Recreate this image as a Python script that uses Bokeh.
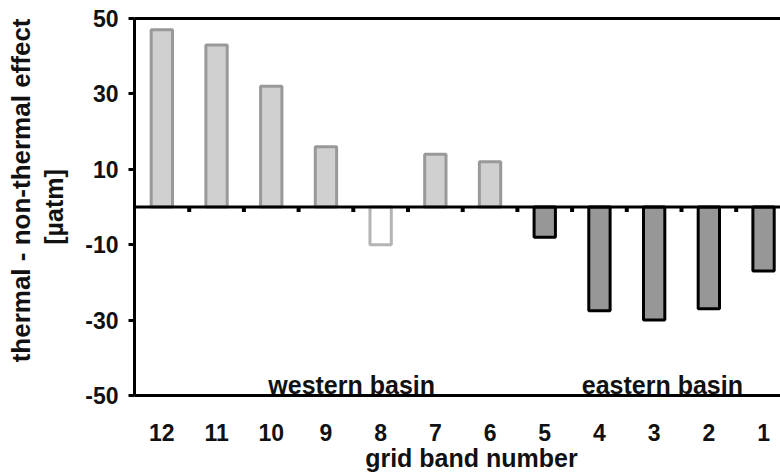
from bokeh.plotting import figure
from bokeh.models import (ColumnDataSource, Range1d, FixedTicker, LinearAxis, Label, Title, Span)
from bokeh.embed import file_html
from bokeh.resources import INLINE

# ---- data ----
bands = ["12", "11", "10", "9", "8", "7", "6", "5", "4", "3", "2", "1"]
values = [47, 43, 32, 16, -10, 14, 12, -8, -27.5, -30, -27, -17]
basin = ["western"] * 7 + ["eastern"] * 5
y_ticks = [-50, -30, -10, 10, 30, 50]
y_label_1 = "thermal - non-thermal effect"
y_label_2 = "[µatm]"
x_label = "grid band number"
basin_labels = ["western basin", "eastern basin"]

FONT = "Liberation Sans"

xs = list(range(len(bands)))
fills, lines = [], []
for b, v in zip(basin, values):
    if b == "eastern":
        fills.append("#979797"); lines.append("#000000")
    elif v >= 0:
        fills.append("#d0d0d0"); lines.append("#999999")
    else:
        fills.append("#ffffff"); lines.append("#b4b4b4")

src = ColumnDataSource(dict(x=xs, top=values, fill=fills, line=lines))

p = figure(width=780, height=474, output_backend="svg", toolbar_location=None,
           x_range=Range1d(-0.5, 11.31), y_range=Range1d(-50, 50),
           min_border_left=134, min_border_right=0, min_border_top=18,
           min_border_bottom=79)
p.outline_line_color = None
p.xgrid.visible = False
p.ygrid.visible = False
p.background_fill_color = "white"
p.border_fill_color = "white"

p.vbar(x="x", top="top", bottom=0, width=0.39, source=src,
       fill_color="fill", line_color="line", line_width=3)

# zero line with small ticks between categories
p.add_layout(Span(location=0, dimension="width", line_color="black", line_width=3))
bounds = [i + 0.5 for i in xs]
p.segment(x0=bounds, x1=bounds, y0=[0] * len(bounds), y1=[-1.3] * len(bounds),
          line_color="black", line_width=4, line_cap="butt")

# left axis
ya = p.yaxis[0]
ya.ticker = FixedTicker(ticks=y_ticks)
ya.major_label_overrides = {t: str(t) for t in y_ticks}
ya.axis_line_width = 3
ya.axis_line_color = "black"
ya.major_tick_line_width = 3
ya.major_tick_out = 6
ya.major_tick_in = 0
ya.minor_tick_line_color = None
ya.major_label_standoff = 10
ya.major_label_text_font = FONT
ya.major_label_text_font_style = "bold"
ya.major_label_text_font_size = "23px"
ya.major_label_text_color = "#111111"
ya.axis_label = y_label_2
ya.axis_label_standoff = 14
ya.axis_label_text_font = FONT
ya.axis_label_text_font_style = "bold"
ya.axis_label_text_font_size = "25px"
ya.axis_label_text_color = "#111111"

# outer y title line
p.add_layout(Title(text=y_label_1, align="right", offset=0, standoff=4,
                   text_font=FONT, text_font_style="bold",
                   text_font_size="26px", text_color="#111111"), "left")

# bottom axis (frame bottom line + band labels)
xa = p.xaxis[0]
xa.ticker = FixedTicker(ticks=xs)
xa.major_label_overrides = {i: b for i, b in zip(xs, bands)}
xa.axis_line_width = 3
xa.axis_line_color = "black"
xa.major_tick_line_color = None
xa.major_tick_out = 0
xa.major_tick_in = 0
xa.minor_tick_line_color = None
xa.major_label_standoff = 28
xa.major_label_text_font = FONT
xa.major_label_text_font_style = "bold"
xa.major_label_text_font_size = "23px"
xa.major_label_text_color = "#111111"
xa.axis_label = "\u00a0" * 4 + x_label
xa.axis_label_standoff = 0
xa.axis_label_text_font = FONT
xa.axis_label_text_font_style = "bold"
xa.axis_label_text_font_size = "25px"
xa.axis_label_text_color = "#111111"

# top frame line
top_ax = LinearAxis(ticker=FixedTicker(ticks=[]), axis_line_width=3,
                    major_tick_line_color=None, minor_tick_line_color=None,
                    major_label_standoff=0, major_tick_out=0, major_tick_in=0)
p.add_layout(top_ax, "above")

# basin labels
for txt, xc in zip(basin_labels, [3.47, 9.15]):
    p.add_layout(Label(x=xc, y=-47.3, text=txt, text_align="center",
                       text_baseline="alphabetic", text_font=FONT,
                       text_font_style="bold", text_font_size="25px",
                       text_color="#111111"))

open("out.html", "w").write(file_html(p, INLINE))
